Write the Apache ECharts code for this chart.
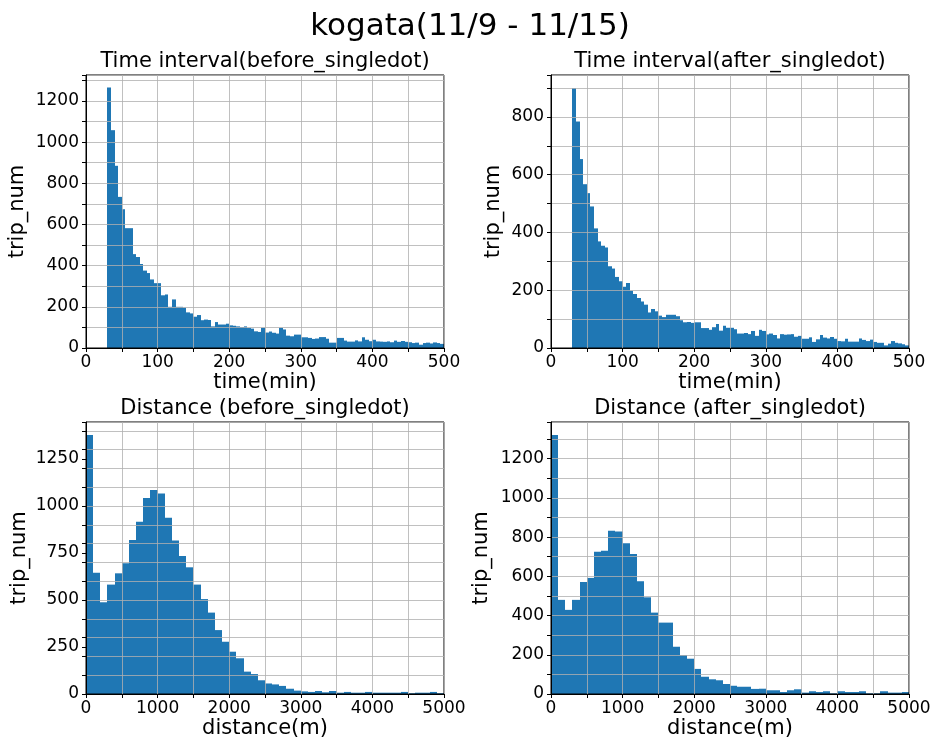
<!DOCTYPE html>
<html>
<head>
<meta charset="utf-8">
<script src="https://cdn.jsdelivr.net/npm/echarts@6/dist/echarts.min.js"></script>
<style>
html,body{margin:0;padding:0;background:#ffffff;}
#chart{width:930px;height:740px;}
</style>
</head>
<body>
<div id="chart"></div>
<script>
// ---------------- data ----------------
const mainTitle = 'kogata(11/9 - 11/15)';
const panelTitles = ['Time interval(before_singledot)', 'Time interval(after_singledot)',
                     'Distance (before_singledot)', 'Distance (after_singledot)'];

// time histograms: bins of 5 min starting at 30 min
const timeBinStart = 30;
const timeBinWidth = 5;
const timeBeforeCounts = [
  1265,1058,885,734,674,582,582,456,442,408,
  376,364,333,315,315,256,260,200,236,200,
  200,196,173,168,152,160,135,138,136,105,
  126,114,114,118,110,108,105,102,105,97,
  94,81,78,98,75,80,74,70,98,90,
  60,57,65,65,52,52,49,44,46,53,
  53,45,26,26,49,49,36,31,31,37,
  32,52,40,33,40,32,31,30,32,28,
  36,30,34,30,28,24,26,16,24,26,
  22,27,24,20
];
const timeAfterCounts = [
  900,784,654,567,536,490,414,369,354,348,
  283,275,246,231,212,225,198,187,173,161,
  150,123,135,127,112,107,115,115,115,110,
  96,89,90,87,89,89,69,69,63,72,
  83,60,77,70,70,65,50,50,52,48,
  59,42,63,59,47,50,45,33,48,46,
  47,48,39,42,32,32,37,21,30,45,
  36,33,38,32,24,23,32,22,22,22,
  33,28,24,29,21,18,18,9,15,24,
  18,16,13,9
];

// distance histograms: bins of 100 m starting at 0 m
const distBinStart = 0;
const distBinWidth = 100;
const distBeforeCounts = [
  1378,645,488,582,642,695,819,917,1043,1085,
  1067,938,816,734,674,582,505,433,340,278,
  225,190,119,106,73,56,51,43,28,18,
  14,11,16,9,16,7,11,7,7,11,
  7,7,7,7,11,4,7,7,11,4
];
const distAfterCounts = [
  1321,480,429,480,571,592,726,731,833,828,
  769,714,575,493,415,364,364,241,199,180,
  128,88,75,70,51,42,37,37,26,27,
  19,19,10,19,24,7,14,10,14,3,
  14,10,10,14,3,3,14,7,7,10
];

// axis settings
const timeAxisMax = 500, timeGridStep = 50, timeLabelStep = 100;
const distAxisMax = 5000, distGridStep = 500, distLabelStep = 1000;
const yMaxes = [1326, 945, 1447, 1387];
const yLabelSteps = [200, 200, 250, 200];
const yGridStep = 100;
const xNames = ['time(min)', 'time(min)', 'distance(m)', 'distance(m)'];
const yName = 'trip_num';

// ---------------- build ----------------
function toBins(counts, start, width) {
  return counts.map((c, i) => [start + i * width, start + (i + 1) * width, c]);
}
const binsList = [
  toBins(timeBeforeCounts, timeBinStart, timeBinWidth),
  toBins(timeAfterCounts, timeBinStart, timeBinWidth),
  toBins(distBeforeCounts, distBinStart, distBinWidth),
  toBins(distAfterCounts, distBinStart, distBinWidth)
];

const FONT = '"DejaVu Sans", sans-serif';
const BAR = '#1f77b4';
const GRIDC = '#b0b0b0';
const TICK_FS = 17, NAME_FS = 21, SUB_FS = 21, MAIN_FS = 31;

const rects = [
  {left: 86, top: 75, width: 358, height: 273},
  {left: 551, top: 75, width: 358, height: 273},
  {left: 86, top: 422, width: 358, height: 272},
  {left: 551, top: 422, width: 358, height: 272}
];
const yNameGaps = [58, 47, 56, 59];

const grids = rects.map(r => ({
  left: r.left, top: r.top, width: r.width, height: r.height,
  show: true, borderColor: '#000', borderWidth: 1, backgroundColor: 'transparent',
  containLabel: false, outerBoundsMode: 'none'
}));

const xAxes = [0, 1, 2, 3].map(i => {
  const isTime = i < 2;
  const lab = isTime ? timeLabelStep : distLabelStep;
  return {
    type: 'value', gridIndex: i, min: 0, max: isTime ? timeAxisMax : distAxisMax,
    interval: isTime ? timeGridStep : distGridStep,
    axisLine: {show: true, onZero: false, lineStyle: {color: '#000', width: 1}},
    axisTick: {show: true, length: 4, lineStyle: {color: '#000', width: 1}},
    axisLabel: {color: '#000', fontSize: TICK_FS, fontFamily: FONT, margin: 6,
      formatter: v => (v % lab === 0 ? String(v) : '')},
    splitLine: {show: true, lineStyle: {color: GRIDC, width: 0.8}},
    name: xNames[i], nameLocation: 'middle', nameGap: 24,
    nameTextStyle: {color: '#000', fontSize: NAME_FS, fontFamily: FONT}
  };
});

const yAxes = [];
[0, 1, 2, 3].forEach(i => {
  const step = yLabelSteps[i];
  yAxes.push({
    type: 'value', gridIndex: i, position: 'left', min: 0, max: yMaxes[i], interval: yGridStep,
    axisLine: {show: true, onZero: false, lineStyle: {color: '#000', width: 1}},
    axisTick: {show: true, length: 4, lineStyle: {color: '#000', width: 1}},
    axisLabel: {show: false},
    splitLine: {show: true, lineStyle: {color: GRIDC, width: 0.8}},
    name: yName, nameLocation: 'middle', nameGap: yNameGaps[i],
    nameTextStyle: {color: '#000', fontSize: NAME_FS, fontFamily: FONT}
  });
  yAxes.push({
    type: 'value', gridIndex: i, position: 'left', min: 0, max: yMaxes[i], interval: step,
    axisLine: {show: false},
    axisTick: {show: step % yGridStep !== 0, length: 4, lineStyle: {color: '#000', width: 1}},
    axisLabel: {color: '#000', fontSize: TICK_FS, fontFamily: FONT, margin: 7,
      formatter: v => (v % step === 0 ? String(v) : '')},
    splitLine: {show: false}
  });
});

function renderBin(params, api) {
  const p0 = api.coord([api.value(0), 0]);
  const p1 = api.coord([api.value(1), api.value(2)]);
  const xa = Math.round(p0[0]), xb = Math.round(p1[0]);
  return {
    type: 'rect',
    shape: {x: xa, y: p1[1], width: xb - xa, height: p0[1] - p1[1]},
    style: {fill: BAR}
  };
}

const series = binsList.map((bins, i) => ({
  type: 'custom', xAxisIndex: i, yAxisIndex: i * 2, data: bins,
  encode: {x: [0, 1], y: 2}, renderItem: renderBin, clip: true, z: -1, silent: true
}));

function textEl(txt, x, y, size) {
  return {type: 'text', x: x, y: y, silent: true,
    style: {text: txt, font: size + 'px ' + FONT, fill: '#000',
      textAlign: 'center', textVerticalAlign: 'middle', align: 'center', verticalAlign: 'middle'}};
}

const option = {
  backgroundColor: '#ffffff',
  animation: false,
  grid: grids,
  xAxis: xAxes,
  yAxis: yAxes,
  series: series,
  graphic: [
    textEl(mainTitle, 470, 27, MAIN_FS),
    textEl(panelTitles[0], 265, 62, SUB_FS),
    textEl(panelTitles[1], 730, 62, SUB_FS),
    textEl(panelTitles[2], 265, 408.5, SUB_FS),
    textEl(panelTitles[3], 730, 408.5, SUB_FS)
  ]
};

const chart = echarts.init(document.getElementById('chart'), null, {renderer: 'canvas'});
chart.setOption(option);
</script>
</body>
</html>
